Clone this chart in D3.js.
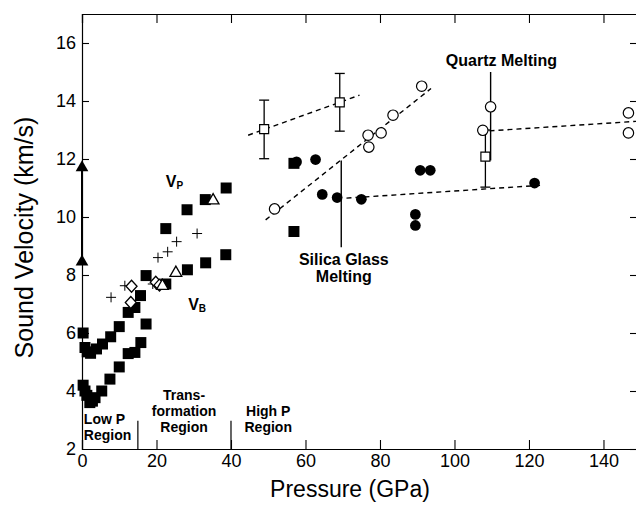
<!DOCTYPE html>
<html><head><meta charset="utf-8">
<script src="https://cdn.jsdelivr.net/npm/d3@7"></script>
<style>
html,body{margin:0;padding:0;background:#fff;}
svg{display:block;font-family:"Liberation Sans",Arial,Helvetica,sans-serif;}
</style></head>
<body><svg id="c" width="636" height="507"></svg>
<script>
// ---- data (Pressure GPa, Sound velocity km/s) ----
const xTicks = [0,20,40,60,80,100,120,140];
const yTicks = [2,4,6,8,10,12,14,16];
const vpSquares = [[0.3,6.0],[0.8,5.5],[1.4,5.35],[2.3,5.3],[3.9,5.45],[5.5,5.62],[7.7,5.87],[10.0,6.22],[12.4,6.71],[14.2,6.88],[15.7,7.29],[17.2,7.98],[22.5,9.6],[28.2,10.25],[33.1,10.6],[38.7,11.0],[56.9,11.85]];
const vbSquares = [[0.3,4.2],[0.8,4.0],[1.3,3.85],[2.1,3.6],[2.8,3.65],[3.5,3.77],[5.3,4.0],[7.5,4.41],[10.0,4.83],[12.4,5.29],[14.2,5.33],[15.8,5.67],[17.2,6.31],[22.5,7.69],[28.3,8.18],[33.2,8.42],[38.6,8.7],[56.9,9.5]];
const filledCircles = [[57.6,11.9],[62.7,11.98],[64.5,10.78],[68.5,10.67],[75.0,10.61],[90.8,11.61],[93.5,11.61],[89.5,10.09],[89.5,9.71],[121.5,11.17]];
const openCircles = [[51.7,10.28],[76.8,12.82],[77.0,12.41],[80.3,12.9],[83.5,13.51],[91.2,14.51],[107.6,12.99],[109.7,13.8],[146.7,13.59],[146.7,12.9]];
const openSquares = [[48.9,13.03],[69.2,13.95],[108.3,12.08]];
const errorBars = [[48.9,12.01,14.03],[69.2,12.96,14.95],[108.3,11.03,13.0]];
const pluses = [[7.8,7.23],[11.5,7.63],[19.0,7.69],[20.4,8.6],[23.0,8.8],[25.4,9.15],[30.9,9.43]];
const diamonds = [[13.3,7.61],[13.1,7.05],[19.8,7.75],[20.8,7.65]];
const openTriangles = [[35.2,10.57],[25.2,8.07],[21.6,7.62]];
const axisTriangles = [[0,11.7],[0,8.45]];
const dashedFits = [[[44.6,12.82],[74.5,14.2]],[[49.3,9.9],[93.7,14.43]],[[71,10.65],[124,11.1]],[[109.4,12.97],[149,13.3]]];
const meltLines = [[69.6,8.96,11.95],[109.7,11.95,15.0]];
const regionDividers = [15,40];

const svg = d3.select("#c");
const x = d3.scaleLinear().domain([0,149]).range([82,637]);
const y = d3.scaleLinear().domain([2,17]).range([449,14]);

// axes
const fs = "18px";
const gB = svg.append("g").attr("transform",`translate(0,${y(2)})`)
  .call(d3.axisBottom(x).tickValues(xTicks).tickSize(-9).tickPadding(5).tickFormat(d3.format("d")));
const gT = svg.append("g").attr("transform",`translate(0,${y(17)})`)
  .call(d3.axisTop(x).tickValues(xTicks).tickSize(-9).tickFormat(""));
const gL = svg.append("g").attr("transform",`translate(${x(0)},0)`)
  .call(d3.axisLeft(y).tickValues(yTicks).tickSize(-7).tickPadding(6).tickFormat(d3.format("d")));
const gR = svg.append("g").attr("transform",`translate(${x(149)},0)`)
  .call(d3.axisRight(y).tickValues(yTicks).tickSize(-7).tickFormat(""));
[gB,gT,gL,gR].forEach(g=>{
  g.select(".domain").attr("stroke","#000").attr("stroke-width",1.2);
  g.selectAll(".tick line").attr("stroke","#000").attr("stroke-width",1.1);
  g.selectAll("text").attr("fill","#000").style("font-size",fs).style("font-family","'Liberation Sans',Arial,sans-serif");
});
gL.selectAll(".tick").filter(d=>d===2).select("line").remove();

// axis titles
svg.append("text").attr("transform",`translate(33,${(y(2)+y(17))/2 + 6}) rotate(-90)`)
  .attr("text-anchor","middle").style("font-size","25px").text("Sound Velocity (km/s)");
svg.append("text").attr("x",350).attr("y",497).attr("text-anchor","middle")
  .style("font-size","23px").text("Pressure (GPa)");

// region dividers
svg.selectAll("line.div").data(regionDividers).join("line")
  .attr("x1",d=>x(d)).attr("x2",d=>x(d)).attr("y1",y(2)).attr("y2",y(2.97))
  .attr("stroke","#000").attr("stroke-width",1.2);

// axis segment between axis triangles
svg.append("line").attr("x1",x(0)).attr("x2",x(0)).attr("y1",y(axisTriangles[0][1])).attr("y2",y(axisTriangles[1][1]))
  .attr("stroke","#000").attr("stroke-width",2);

// dashed fits
svg.selectAll("line.fit").data(dashedFits).join("line")
  .attr("x1",d=>x(d[0][0])).attr("y1",d=>y(d[0][1])).attr("x2",d=>x(d[1][0])).attr("y2",d=>y(d[1][1]))
  .attr("stroke","#000").attr("stroke-width",1.4).attr("stroke-dasharray","5,4");

// melting lines
svg.selectAll("line.melt").data(meltLines).join("line")
  .attr("x1",d=>x(d[0])).attr("x2",d=>x(d[0])).attr("y1",d=>y(d[1])).attr("y2",d=>y(d[2]))
  .attr("stroke","#000").attr("stroke-width",1.4);

// error bars
const eb = svg.append("g").attr("stroke","#000").attr("stroke-width",1.3);
errorBars.forEach(d=>{
  eb.append("line").attr("x1",x(d[0])).attr("x2",x(d[0])).attr("y1",y(d[1])).attr("y2",y(d[2]));
  eb.append("line").attr("x1",x(d[0])-5).attr("x2",x(d[0])+5).attr("y1",y(d[1])).attr("y2",y(d[1]));
  eb.append("line").attr("x1",x(d[0])-5).attr("x2",x(d[0])+5).attr("y1",y(d[2])).attr("y2",y(d[2]));
});

const sym = (type,size)=>d3.symbol().type(type).size(size)();
function pts(data, path, fill, stroke, sw){
  svg.append("g").selectAll("path").data(data).join("path")
    .attr("transform",d=>`translate(${x(d[0])},${y(d[1])})`)
    .attr("d",path).attr("fill",fill).attr("stroke",stroke).attr("stroke-width",sw||1.2);
}
const diamondPath = "M0,-6L5.5,0L0,6L-5.5,0Z";
const plusPath = "M-5,0H5M0,-5V5";

pts(vpSquares, sym(d3.symbolSquare,121), "#000", "none");
pts(vbSquares, sym(d3.symbolSquare,121), "#000", "none");
pts(filledCircles, sym(d3.symbolCircle,90), "#000", "none");
pts(openCircles, sym(d3.symbolCircle,85), "#fff", "#000", 1.2);
pts(openSquares, sym(d3.symbolSquare,81), "#fff", "#000", 1.2);
pts(pluses, plusPath, "none", "#000", 1);
pts(diamonds, diamondPath, "#fff", "#000", 1.3);
pts(openTriangles, sym(d3.symbolTriangle,60), "#fff", "#000", 1.3);
pts(axisTriangles, sym(d3.symbolTriangle,70), "#000", "none");

// annotation text
const bold = (tx,ty,t,anchor,size)=>svg.append("text").attr("x",tx).attr("y",ty)
  .attr("text-anchor",anchor||"middle").style("font-weight","bold").style("font-size",(size||15)+"px").text(t);
bold(x(112.6),66,"Quartz Melting",null,16);
bold(x(70.3),265,"Silica Glass",null,16);
bold(x(70.3),282,"Melting",null,16);
bold(x(0.5),424,"Low P","start",14);
bold(x(0.5),440,"Region","start",14);
bold(x(27.4),400,"Trans-",null,14);
bold(x(27.4),416,"formation",null,14);
bold(x(27.4),432,"Region",null,14);
bold(x(50),416,"High P",null,14);
bold(x(50),432,"Region",null,14);

// V_P, V_B labels
function vlab(px,py,sub){
  const t = svg.append("text").attr("x",px).attr("y",py).style("font-weight","bold").style("font-size","16px");
  t.append("tspan").text("V");
  t.append("tspan").attr("dy",2).style("font-size","10px").text(sub);
}
vlab(x(22.5),187,"P");
vlab(x(28.5),310,"B");
</script></body></html>
